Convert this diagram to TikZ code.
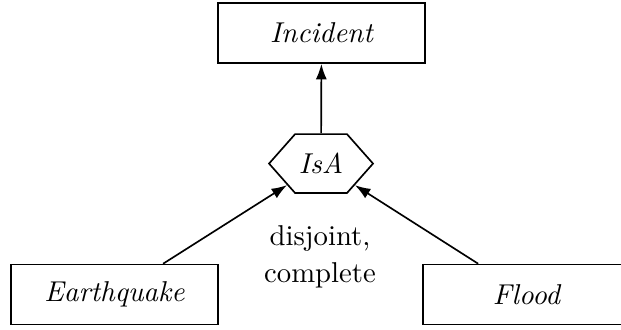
\documentclass[tikz,border=0pt]{standalone}
\usetikzlibrary{shapes.symbols,arrows.meta}
\begin{document}
\begin{tikzpicture}[>={Latex[length=5.6pt,width=4pt]},
  box/.style={draw, semithick, minimum width=2.636cm, minimum height=0.764cm,
    font=\fontsize{10.4pt}{12.5pt}\selectfont\itshape},
  isa/.style={draw, semithick, signal, signal to=west and east, signal pointer angle=97,
    minimum width=1.324cm, minimum height=0.751cm, inner sep=1pt,
    font=\fontsize{10.4pt}{12.5pt}\selectfont\itshape}]
  \def\W{7.908}   % width of the page
  \def\H{4.190}   % height of the page
  \useasboundingbox (0,0) rectangle (\W,\H);

  % Classes
  \node[box] (incident) at (4.094,3.769) {Incident};
  \node[isa] (isa) at (4.088,2.107) {IsA};
  \node[box] (earthquake) at (1.458,0.439) {Earthquake};
  \node[box] (flood) at (6.705,0.439) {Flood};

  % Generalisation arrows
  \draw[semithick,->] (isa) -- (incident);
  \draw[semithick,->] (earthquake) -- (isa);
  \draw[semithick,->] (flood) -- (isa);

  % Constraint
  \node[align=center, font=\fontsize{10.4pt}{12.5pt}\selectfont] (constraint)
    at (4.075,0.923) {disjoint,\\[0.9pt] complete};
\end{tikzpicture}
\end{document}
